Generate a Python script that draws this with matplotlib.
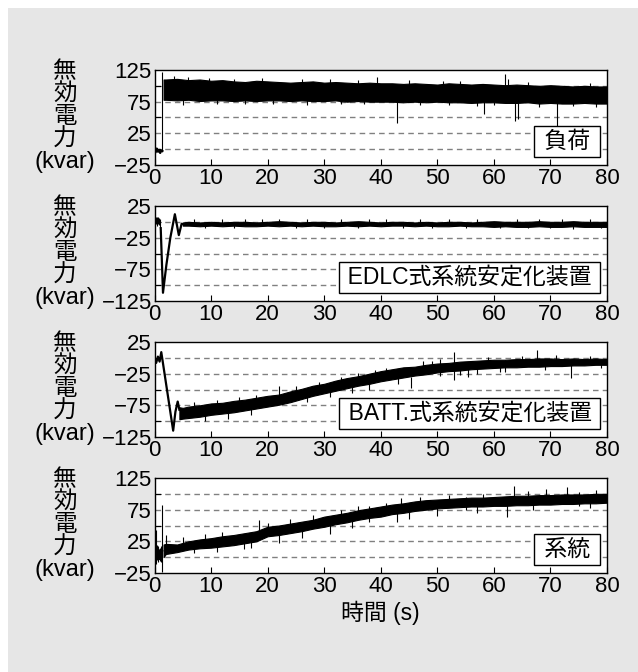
#!/usr/bin/env python3
# -*- coding: utf-8 -*-
# 無効電力の時間変化 (負荷 / EDLC / BATT / 系統) 4 段グラフ
import numpy as np
import matplotlib
matplotlib.use("Agg")
import matplotlib.pyplot as plt
from matplotlib.patches import Rectangle

plt.rcParams['font.family'] = ['Liberation Sans', 'Noto Sans CJK JP', 'DejaVu Sans']

# ---- データ ----
titles = [" 負荷 ", "\u2009EDLC式系統安定化装置\u2009", "\u2009BATT.式系統安定化装置\u2009", " 系統 "]
ylims = [(-25, 125), (-125, 25), (-125, 25), (-25, 125)]
yticks = [[-25, 25, 75, 125], [-125, -75, -25, 25], [-125, -75, -25, 25], [-25, 25, 75, 125]]
xticks = [0, 10, 20, 30, 40, 50, 60, 70, 80]

# 負荷
load_pre_t = [0, 0.2, 0.4, 0.6, 0.8, 1.0, 1.2, 1.4]
load_pre_v = [-2, -5, 1, -4, -1, -6, -2, -3]
load_t = [1.6] + list(range(2, 81, 2))
load_hi = [110,
           110, 111, 109, 110, 108, 109, 107, 106, 108, 107,
           106, 105, 106, 107, 105, 106, 105, 104, 105, 104,
           104, 103, 104, 103, 102, 104, 103, 102, 103, 102,
           101, 102, 101, 100, 101, 100, 99, 100, 99, 99]
load_lo = [78,
           78, 77, 78, 76, 77, 77, 76, 77, 76, 77,
           77, 76, 77, 76, 76, 77, 75, 76, 75, 75,
           75, 74, 75, 74, 75, 74, 74, 73, 74, 74,
           73, 73, 74, 72, 73, 72, 72, 73, 72, 72]
load_sp_t = [1.4, 39.4, 42.8, 58.2, 62.0, 62.5, 63.7, 64.3, 71.2,
             3.5, 6, 9.7, 14, 19, 26, 31, 36, 45, 51, 54, 66, 77,
             5, 11, 16, 21, 27, 33, 37, 47, 52, 57, 60, 68, 74, 78]
load_sp_lo = [-3, 100, 41, 56, 100, 100, 44, 48, 5,
              100, 100, 100, 100, 100, 100, 100, 100, 100, 100, 100, 98, 97,
              70, 71, 72, 71, 70, 72, 71, 69, 70, 68, 69, 67, 68, 67]
load_sp_hi = [122, 114, 78, 78, 118, 110, 76, 76, 75,
              116, 114, 112, 111, 112, 110, 111, 109, 109, 108, 107, 106, 105,
              78, 78, 78, 78, 78, 78, 77, 76, 76, 75, 75, 74, 74, 74]

# EDLC式
edlc_pre_t = [1.1, 1.5, 2.1, 2.8, 3.6, 4.3, 4.8, 5.2]
edlc_pre_v = [-10, -112, -68, -25, 12, -21, -3, -4]
edlc_t = [5] + list(range(6, 81, 2))
edlc_hi = [-1,
           0, -1, 0, -1, 0, 0, -1, 0, 1, 0,
           -1, 0, 0, -1, 0, 1, 0, -1, 0, 0,
           -1, 0, -1, 0, 0, -1, 0, 1, 0, 0,
           0, 1, 0, 0, 1, 0, 0, 0]
edlc_lo = [-6,
           -6, -7, -6, -7, -6, -7, -7, -6, -7, -6,
           -7, -6, -7, -7, -6, -7, -6, -7, -6, -6,
           -7, -6, -7, -7, -6, -7, -7, -8, -7, -8,
           -8, -7, -8, -8, -7, -8, -8, -8]
edlc_sp_t = [0.2, 0.4, 0.6, 0.8, 1.0,
             7, 12, 16, 19, 22, 27, 33, 38, 41, 47, 52, 57, 64, 68, 72, 77,
             9, 14, 25, 30, 36, 44, 49, 55, 61, 66, 70, 74, 79]
edlc_sp_lo = [-4, -6, -3, -5, -10,
              -3, -3, -3, -3, -3, -3, -3, -3, -3, -3, -3, -3, -3, -3, -3, -3,
              -9, -9, -10, -9, -9, -10, -9, -9, -10, -10, -10, -11, -10]
edlc_sp_hi = [8, 7, 8, 6, 5,
              4, 5, 4, 5, 4, 5, 4, 5, 4, 5, 4, 4, 5, 4, 5, 4,
              -5, -5, -5, -5, -5, -5, -5, -5, -5, -5, -5, -5, -5]

# BATT.式
batt_pre_t = [0, 0.3, 0.6, 0.9, 1.2, 2.2, 3.3, 3.7, 4.1, 4.4]
batt_pre_v = [-3, -8, 2, -6, 9, -50, -115, -85, -69, -82]
batt_t = [4.4, 5] + list(range(6, 81, 2))
batt_hi = [-78, -79,
           -77, -75, -72, -71, -68, -66, -63, -60, -58, -53,
           -49, -44, -41, -36, -32, -29, -25, -21, -18, -15,
           -14, -11, -9, -8, -6, -5, -4, -3, -3, -2,
           -2, -1, -1, -2, -1, -2, -1, -2]
batt_lo = [-97, -96,
           -95, -93, -90, -88, -86, -83, -80, -77, -74, -70,
           -65, -60, -56, -52, -48, -44, -41, -37, -34, -31,
           -28, -26, -23, -21, -20, -18, -17, -16, -15, -15,
           -14, -14, -13, -13, -12, -12, -11, -11]
batt_sp_t = [22, 43, 45.3, 47.5, 50.5, 52.9, 55.4, 57, 62, 67.6, 73.6,
             7, 11, 15, 18, 25, 29, 33, 36, 39, 41, 49, 59, 65, 71, 77,
             9, 13, 17, 27, 31, 35, 38, 54, 61, 69, 79]
batt_sp_lo = [-60, -42, -48, -15, -28, -35, -30, -26, -22, -10, -32,
              -80, -75, -70, -66, -55, -48, -40, -32, -27, -24, -14, -8, -6, -5, -5,
              -100, -96, -90, -70, -62, -56, -50, -27, -22, -19, -16]
batt_sp_hi = [-45, -25, -30, -5, -2, 9, -10, -8, -3, 12, -5,
              -70, -66, -62, -58, -45, -38, -30, -24, -19, -16, -5, 2, 3, 4, 3,
              -88, -84, -78, -60, -52, -45, -40, -18, -14, -12, -10]

# 系統
grid_pre_t = [0.1, 0.3, 0.5, 0.7, 0.9, 1.1, 1.36]
grid_pre_v = [5, 15, 0, 12, -3, 8, 10]
grid_t = [1.6] + list(range(2, 81, 2))
grid_hi = [20,
           21, 20, 25, 28, 30, 33, 35, 38, 41, 48,
           50, 53, 56, 59, 64, 67, 70, 74, 77, 80,
           83, 85, 88, 90, 91, 92, 93, 94, 94, 95,
           96, 97, 97, 98, 98, 99, 99, 99, 100, 100]
grid_lo = [0,
           5, 8, 12, 14, 15, 17, 19, 22, 25, 33,
           35, 38, 41, 45, 48, 52, 55, 59, 62, 64,
           68, 70, 73, 75, 77, 78, 79, 80, 80, 81,
           81, 82, 82, 83, 83, 84, 84, 85, 85, 86]
grid_sp_t = [0.3, 0.5, 0.7, 0.9, 1.1, 1.36, 2.1, 15.9, 18.5, 38, 42.8, 43.5, 55, 62.3, 63.5, 69.3, 72.9, 75,
             5, 9, 12, 20, 24, 28, 33, 36, 41, 47, 52, 58, 66, 78,
             7, 11, 17, 22, 26, 31, 35, 45, 50, 57, 67, 77]
grid_sp_lo = [-10, -5, -8, -6, -7, -24, 10, 13, 35, 55, 56, 75, 75, 64, 90, 95, 95, 80,
              18, 22, 25, 40, 46, 52, 60, 66, 72, 82, 85, 88, 92, 94,
              6, 8, 14, 22, 30, 37, 46, 60, 65, 70, 74, 78]
grid_sp_hi = [43, 20, 18, 15, 17, 82, 35, 30, 59, 80, 75, 94, 95, 85, 113, 107, 110, 103,
              32, 36, 40, 54, 60, 66, 74, 80, 86, 95, 98, 100, 104, 106,
              18, 22, 28, 38, 45, 53, 60, 75, 80, 85, 88, 92]

panels = [
    (load_pre_t, load_pre_v, load_t, load_lo, load_hi, load_sp_t, load_sp_lo, load_sp_hi),
    (edlc_pre_t, edlc_pre_v, edlc_t, edlc_lo, edlc_hi, edlc_sp_t, edlc_sp_lo, edlc_sp_hi),
    (batt_pre_t, batt_pre_v, batt_t, batt_lo, batt_hi, batt_sp_t, batt_sp_lo, batt_sp_hi),
    (grid_pre_t, grid_pre_v, grid_t, grid_lo, grid_hi, grid_sp_t, grid_sp_lo, grid_sp_hi),
]

W, H = 638, 672
fig = plt.figure(figsize=(W / 100, H / 100), dpi=100, facecolor="white")
fig.patches.append(Rectangle((8 / W, 0), 1 - 8 / W, 1 - 8 / H, transform=fig.transFigure,
                             facecolor="#e6e6e6", edgecolor="none", zorder=-10))

left, right = 154.5, 607
tops = [70, 206, 342, 478]
ah = 95

for i, (pt, pv, bt, blo, bhi, st, slo, shi) in enumerate(panels):
    ax = fig.add_axes([left / W, 1 - (tops[i] + ah) / H, (right - left) / W, ah / H])
    lo, hi = ylims[i]
    ax.set_xlim(0, 80)
    ax.set_ylim(lo, hi)
    # 破線グリッド
    for g in range(lo + 25, hi, 25):
        ax.axhline(g, color="#808080", lw=1.0, dashes=(4, 3), zorder=1)
    ax.fill_between(bt, blo, bhi, color="black", edgecolor="black", lw=0.8, zorder=3)
    ax.plot(pt, pv, color="black", lw=1.6, zorder=3)
    ax.vlines(st, slo, shi, color="black", lw=0.8, zorder=3)

    ax.set_xticks(xticks)
    ax.set_yticks(yticks[i])
    ax.set_yticks(list(range(lo, hi + 1, 25)), minor=True)
    ax.tick_params(axis="both", which="both", direction="in", top=False, right=False,
                   labelsize=16, length=4, width=0.8, pad=2)
    ax.tick_params(axis="y", which="major", length=0)
    for s in ax.spines.values():
        s.set_linewidth(1.0)

    ax.text(0.976, 0.127, titles[i], transform=ax.transAxes, ha="right", va="bottom",
            fontsize=16.5, zorder=5,
            bbox=dict(boxstyle="square,pad=0.18", facecolor="white", edgecolor="black", lw=1.0))

    ax.text(-0.198, 1.09, "無\n効\n電\n力\n(kvar)", transform=ax.transAxes,
            ha="center", va="top", fontsize=17, linespacing=1.02)

fig.text(380 / W, 1 - 613 / H, "時間 (s)", ha="center", va="center", fontsize=16.5)

fig.savefig("out.png", dpi=100, facecolor=fig.get_facecolor())
